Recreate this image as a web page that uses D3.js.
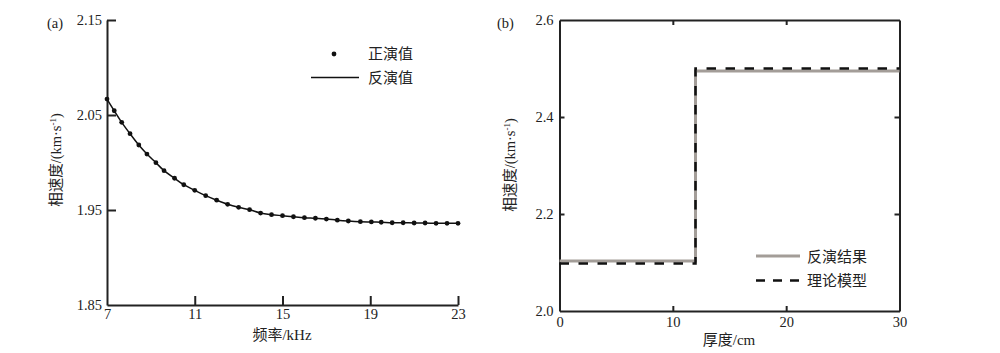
<!DOCTYPE html>
<html><head><meta charset="utf-8">
<script src="https://cdn.jsdelivr.net/npm/d3@7"></script>
<style>
html,body{margin:0;padding:0;background:#fff;}
svg{display:block;}
text{font-family:"Liberation Serif","Times New Roman","Noto Sans CJK SC",serif;fill:#222;}
.cn{font-family:"Liberation Serif","Noto Sans CJK SC",sans-serif;}
</style>
</head><body>
<svg id="c" width="1000" height="353"></svg>
<script>
// Panel (a) data
const freqA = [7, 7.33, 7.67, 8.05, 8.45, 8.82, 9.23, 9.6, 10.08, 10.5, 11, 11.5, 12, 12.5, 13, 13.5, 14, 14.5, 15, 15.5, 16, 16.5, 17, 17.5, 18, 18.55, 19.05, 19.5, 20, 20.5, 21, 21.5, 22, 22.5, 23];
const velA  = [2.0668, 2.0545, 2.0423, 2.0303, 2.0184, 2.0089, 1.9998, 1.9914, 1.9834, 1.9766, 1.9707, 1.9651, 1.9603, 1.9560, 1.9528, 1.9503, 1.9468, 1.9451, 1.9440, 1.9429, 1.9419, 1.9413, 1.9405, 1.9393, 1.9384, 1.9377, 1.9374, 1.9371, 1.9366, 1.9366, 1.9363, 1.9363, 1.9360, 1.9360, 1.9360];
const xTicksA = [7, 11, 15, 19, 23];
const yTicksA = [1.85, 1.95, 2.05, 2.15];
const legendA = ["正演值", "反演值"];

// Panel (b) data
const depthB = [0, 12, 30];
const invB = [2.103, 2.495, 2.495];
const theoryB = [2.098, 2.5, 2.5];
const xTicksB = [0, 10, 20, 30];
const yTicksB = [2.0, 2.2, 2.4, 2.6];
const legendB = ["反演结果", "理论模型"];

const svg = d3.select("#c");
const AX = "#222";
const SERIF = '"Liberation Serif","Times New Roman",serif';

function styleAxis(g, sw) {
  g.attr("font-family", SERIF).attr("font-size", 14.5);
  g.select(".domain").attr("stroke", AX).attr("stroke-width", sw);
  g.selectAll(".tick line").attr("stroke", AX).attr("stroke-width", sw);
  g.selectAll(".tick text").attr("font-size", 14.5).attr("fill", "#222")
    .style("font-family", SERIF);
}

// ---------- Panel (a) ----------
const xa = d3.scaleLinear().domain([7, 23]).range([107, 458]);
const ya = d3.scaleLinear().domain([1.85, 2.15]).range([305, 20]);

const gxa = svg.append("g").attr("transform", "translate(0,305)")
  .call(d3.axisBottom(xa).tickValues(xTicksA).tickFormat(d3.format("d")).tickSizeInner(-9).tickSizeOuter(0).tickPadding(4));
styleAxis(gxa, 2);
const gya = svg.append("g").attr("transform", "translate(107,0)")
  .call(d3.axisLeft(ya).tickValues(yTicksA).tickFormat(d3.format(".2f")).tickSizeInner(-9).tickSizeOuter(0).tickPadding(5));
styleAxis(gya, 2);
gya.selectAll(".tick").filter(d => d === 1.85).select("line").remove();
gxa.selectAll(".tick").filter(d => d === 7).select("line").remove();

const ptsA = freqA.map((f, i) => [f, velA[i]]);
svg.append("path").datum(ptsA)
  .attr("d", d3.line().x(d => xa(d[0])).y(d => ya(d[1])).curve(d3.curveCatmullRom))
  .attr("fill", "none").attr("stroke", "#111").attr("stroke-width", 1.5);
svg.append("g").selectAll("circle").data(ptsA).join("circle")
  .attr("cx", d => xa(d[0])).attr("cy", d => ya(d[1])).attr("r", 2.4).attr("fill", "#111");

svg.append("text").attr("x", 47).attr("y", 28).attr("font-size", 14.5).text("(a)");
svg.append("text").attr("class", "cn").attr("transform", "translate(61,160) rotate(-90)")
  .attr("text-anchor", "middle").attr("font-size", 14.5)
  .call(t => {
    t.append("tspan").text("相速度/(km·s");
    t.append("tspan").attr("dy", -5).attr("font-size", 9).text("-1");
    t.append("tspan").attr("dy", 5).text(")");
  });
svg.append("text").attr("class", "cn").attr("x", 282).attr("y", 340).attr("text-anchor", "middle")
  .attr("font-size", 15).text("频率/kHz");

// legend (a)
svg.append("circle").attr("cx", 334).attr("cy", 54).attr("r", 2.4).attr("fill", "#111");
svg.append("text").attr("class", "cn").attr("x", 368).attr("y", 59).attr("font-size", 15).text(legendA[0]);
svg.append("line").attr("x1", 311).attr("x2", 359).attr("y1", 77.5).attr("y2", 77.5).attr("stroke", "#111").attr("stroke-width", 1.5);
svg.append("text").attr("class", "cn").attr("x", 368).attr("y", 83).attr("font-size", 15).text(legendA[1]);

// ---------- Panel (b) ----------
const xb = d3.scaleLinear().domain([0, 30]).range([559.5, 899.5]);
const yb = d3.scaleLinear().domain([2.0, 2.6]).range([311, 20]);

const gxb = svg.append("g").attr("transform", "translate(0,311)")
  .call(d3.axisBottom(xb).tickValues(xTicksB).tickFormat(d3.format("d")).tickSizeInner(-5).tickSizeOuter(0).tickPadding(6));
styleAxis(gxb, 2);
gxb.selectAll(".tick").filter(d => d === 0 || d === 30).select("line").remove();
const gyb = svg.append("g").attr("transform", "translate(559.5,0)")
  .call(d3.axisLeft(yb).tickValues(yTicksB).tickFormat(d3.format(".1f")).tickSizeInner(-5).tickSizeOuter(0).tickPadding(6));
styleAxis(gyb, 2);
gyb.selectAll(".tick").filter(d => d === 2.0 || d === 2.6).select("line").remove();
const gtb = svg.append("g").attr("transform", "translate(0,20)")
  .call(d3.axisTop(xb).tickValues([10, 20]).tickFormat("").tickSizeInner(-5).tickSizeOuter(0));
styleAxis(gtb, 2);
const grb = svg.append("g").attr("transform", "translate(899.5,0)")
  .call(d3.axisRight(yb).tickValues([2.2, 2.4]).tickFormat("").tickSizeInner(-5).tickSizeOuter(0));
styleAxis(grb, 2);

const stepLine = d3.line().x(d => xb(d[0])).y(d => yb(d[1])).curve(d3.curveStepAfter);
svg.append("path").datum(depthB.map((d, i) => [d, invB[i]]))
  .attr("d", stepLine).attr("fill", "none").attr("stroke", "#a39d98").attr("stroke-width", 3);
svg.append("path").datum(depthB.map((d, i) => [d, theoryB[i]]))
  .attr("d", stepLine).attr("fill", "none").attr("stroke", "#111").attr("stroke-width", 2.5)
  .attr("stroke-dasharray", "9.5,9.5");

svg.append("text").attr("x", 497).attr("y", 28).attr("font-size", 14.5).text("(b)");
svg.append("text").attr("class", "cn").attr("transform", "translate(515,165) rotate(-90)")
  .attr("text-anchor", "middle").attr("font-size", 14.5)
  .call(t => {
    t.append("tspan").text("相速度/(km·s");
    t.append("tspan").attr("dy", -5).attr("font-size", 9).text("-1");
    t.append("tspan").attr("dy", 5).text(")");
  });
svg.append("text").attr("class", "cn").attr("x", 729).attr("y", 345).attr("text-anchor", "middle")
  .attr("font-size", 15).text("厚度/cm");

// legend (b)
svg.append("line").attr("x1", 756).attr("x2", 800).attr("y1", 256).attr("y2", 256).attr("stroke", "#a39d98").attr("stroke-width", 3);
svg.append("text").attr("class", "cn").attr("x", 807).attr("y", 261.5).attr("font-size", 15).text(legendB[0]);
svg.append("line").attr("x1", 756).attr("x2", 800).attr("y1", 280.5).attr("y2", 280.5).attr("stroke", "#111").attr("stroke-width", 2.5).attr("stroke-dasharray", "9,8");
svg.append("text").attr("class", "cn").attr("x", 807).attr("y", 286).attr("font-size", 15).text(legendB[1]);
</script>
</body></html>
